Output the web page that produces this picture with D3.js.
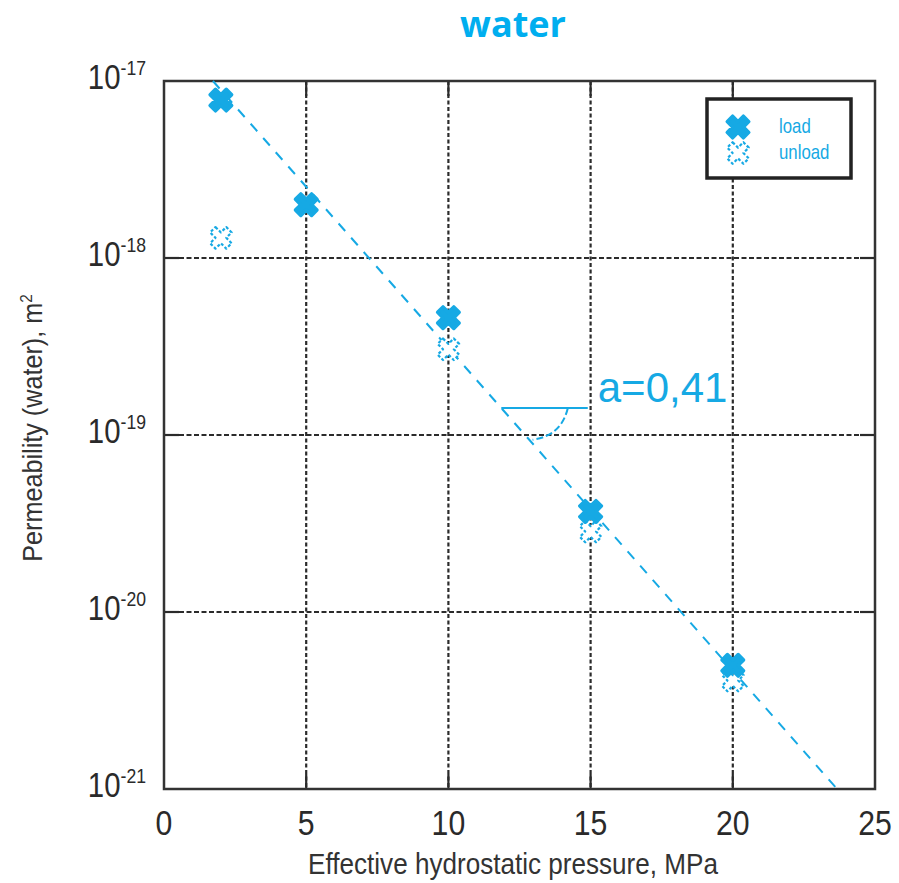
<!DOCTYPE html>
<html>
<head>
<meta charset="utf-8">
<script src="https://cdn.jsdelivr.net/npm/d3@7"></script>
<style>
  body { margin: 0; background: #fff; }
  svg { display: block; }
  .narrow { font-family: 'Liberation Sans Narrow', 'Arial Narrow', 'Liberation Sans', sans-serif; }
</style>
</head>
<body>
<svg id="chart" width="899" height="883"></svg>
<script>
const CYAN = '#16a9e4'
const GRID = '#2b2b2b'

// pressure (MPa) and permeability (m2)
const loadP = [2, 5, 10, 15, 20]
const loadK = [7.8e-18, 2.0e-18, 4.6e-19, 3.7e-20, 5.0e-21]
const unloadP = [2, 10, 15, 20]
const unloadK = [1.3e-18, 3.05e-19, 2.85e-20, 4.1e-21]

// fitted line ends, slope annotation
const fitP = [1.72, 23.67]
const fitK = [1e-17, 1e-21]
const slopeLabel = 'a=0,41'
const slopeP = [11.86, 14.9]
const slopeK = 1.42e-19
const arcP = [14.2, 13.97, 12.96]
const arcK = [1.42e-19, 9.9e-20, 9.4e-20]

const xTicks = [0, 5, 10, 15, 20, 25]
const yExps = [-17, -18, -19, -20, -21]

const svg = d3.select('#chart')
const pLeft = 164, pRight = 875, pTop = 81, pBottom = 789
const squeeze = 0.84   // no narrow font installed, so squash the regular one

const x = d3.scaleLinear().domain([0, 25]).range([pLeft, pRight])
const y = d3.scaleLog().domain([1e-21, 1e-17]).range([pBottom, pTop])

// title
svg.append('text')
    .attr('x', 513).attr('y', 37)
    .attr('text-anchor', 'middle')
    .style('font-family', "'Open Sans', sans-serif")
    .style('font-weight', 'bold')
    .style('font-size', '36px')
    .style('fill', '#00aeef')
    .text('water')

// grid
const inner = svg.append('g')
inner.selectAll('.vgrid')
    .data(xTicks.slice(1, -1)).enter()
    .append('line')
        .attr('x1', (d) => x(d)).attr('x2', (d) => x(d))
        .attr('y1', pTop).attr('y2', pBottom)
        .style('stroke', GRID).style('stroke-width', 2.2)
        .style('stroke-dasharray', '4,2.5')
inner.selectAll('.hgrid')
    .data(yExps.slice(1, -1)).enter()
    .append('line')
        .attr('x1', pLeft).attr('x2', pRight)
        .attr('y1', (d) => y(Math.pow(10, d))).attr('y2', (d) => y(Math.pow(10, d)))
        .style('stroke', GRID).style('stroke-width', 2.2)
        .style('stroke-dasharray', '5,2.5')

// inward tick stubs
const tickLen = 15
xTicks.slice(1, -1).forEach((d) => {
    inner.append('line').attr('x1', x(d)).attr('x2', x(d)).attr('y1', pBottom).attr('y2', pBottom - tickLen)
        .style('stroke', GRID).style('stroke-width', 2.2)
    inner.append('line').attr('x1', x(d)).attr('x2', x(d)).attr('y1', pTop).attr('y2', pTop + tickLen)
        .style('stroke', GRID).style('stroke-width', 2.2)
})
yExps.slice(1, -1).forEach((d) => {
    const yy = y(Math.pow(10, d))
    inner.append('line').attr('x1', pLeft).attr('x2', pLeft + tickLen).attr('y1', yy).attr('y2', yy)
        .style('stroke', GRID).style('stroke-width', 2.2)
    inner.append('line').attr('x1', pRight).attr('x2', pRight - tickLen).attr('y1', yy).attr('y2', yy)
        .style('stroke', GRID).style('stroke-width', 2.2)
})

// frame
svg.append('rect')
    .attr('x', pLeft).attr('y', pTop)
    .attr('width', pRight - pLeft).attr('height', pBottom - pTop)
    .style('fill', 'none').style('stroke', '#333').style('stroke-width', 2.5)

// x tick labels
svg.selectAll('.xlab')
    .data(xTicks).enter()
    .append('text')
        .attr('class', 'narrow')
        .attr('transform', (d) => `translate(${x(d)},835) scale(${squeeze},1)`)
        .attr('text-anchor', 'middle')
        .style('font-size', '36px').style('fill', '#2a2a2a')
        .text((d) => d)

// y tick labels
const ylab = svg.selectAll('.ylab')
    .data(yExps).enter()
    .append('text')
        .attr('class', 'narrow')
        .attr('transform', (d) => `translate(146,${y(Math.pow(10, d)) + 8}) scale(${squeeze},1)`)
        .attr('text-anchor', 'end')
        .style('font-size', '35px').style('fill', '#2a2a2a')
ylab.append('tspan').text('10')
ylab.append('tspan').attr('dy', -14).style('font-size', '21px').text((d) => d)

// axis titles
svg.append('text')
    .attr('class', 'narrow')
    .attr('transform', `translate(513,874) scale(0.9,1)`)
    .attr('text-anchor', 'middle')
    .style('font-size', '29px').style('fill', '#333')
    .text('Effective hydrostatic pressure, MPa')

const yt = svg.append('text')
    .attr('class', 'narrow')
    .attr('transform', `translate(42,428) rotate(-90) scale(0.9,1)`)
    .attr('text-anchor', 'middle')
    .style('font-size', '28px').style('fill', '#333')
yt.append('tspan').text('Permeability (water), m')
yt.append('tspan').attr('dy', -10).style('font-size', '17px').text('2')

// fit line
svg.append('line')
    .attr('x1', x(fitP[0])).attr('y1', y(fitK[0]))
    .attr('x2', x(fitP[1])).attr('y2', y(fitK[1]))
    .style('stroke', CYAN).style('stroke-width', 2)
    .style('stroke-dasharray', '10,9')

// slope annotation
svg.append('line')
    .attr('x1', x(slopeP[0])).attr('x2', x(slopeP[1]))
    .attr('y1', y(slopeK)).attr('y2', y(slopeK))
    .style('stroke', CYAN).style('stroke-width', 2)
const arc = d3.path()
arc.moveTo(x(arcP[0]), y(arcK[0]))
arc.quadraticCurveTo(x(arcP[1]), y(arcK[1]), x(arcP[2]), y(arcK[2]))
svg.append('path')
    .attr('d', arc.toString())
    .style('fill', 'none').style('stroke', CYAN).style('stroke-width', 2)
    .style('stroke-dasharray', '7,3')
svg.append('text')
    .attr('x', x(slopeP[1]) + 10).attr('y', y(slopeK) - 6)
    .style('font-family', "'Liberation Sans', sans-serif")
    .style('font-size', '42px').style('fill', CYAN)
    .text(slopeLabel)

// markers
const marker = d3.symbol().type(d3.symbolCross).size(290)
const unload = unloadP.map((p, i) => ({p: p, k: unloadK[i]}))
const load = loadP.map((p, i) => ({p: p, k: loadK[i]}))

svg.selectAll('.unload')
    .data(unload).enter()
    .append('path')
        .attr('d', marker)
        .attr('transform', (d) => `translate(${x(d.p)},${y(d.k)}) rotate(45)`)
        .style('fill', '#fff').style('stroke', CYAN).style('stroke-width', 2.2)
        .style('stroke-linejoin', 'round')
        .style('stroke-dasharray', '3,2')

svg.selectAll('.load')
    .data(load).enter()
    .append('path')
        .attr('d', marker)
        .attr('transform', (d) => `translate(${x(d.p)},${y(d.k)}) rotate(45)`)
        .style('fill', CYAN).style('stroke', CYAN).style('stroke-width', 3.5)
        .style('stroke-linejoin', 'round')

// legend
const lg = svg.append('g').attr('transform', 'translate(707,99)')
lg.append('rect')
    .attr('width', 144).attr('height', 79)
    .style('fill', '#fff').style('stroke', '#222').style('stroke-width', 3.5)
lg.append('path').attr('d', marker)
    .attr('transform', 'translate(31,28) rotate(45)')
    .style('fill', CYAN).style('stroke', CYAN).style('stroke-width', 3.5).style('stroke-linejoin', 'round')
lg.append('path').attr('d', marker)
    .attr('transform', 'translate(31,54) rotate(45)')
    .style('fill', '#fff').style('stroke', CYAN).style('stroke-width', 2.2)
    .style('stroke-linejoin', 'round').style('stroke-dasharray', '3,2')
lg.append('text').attr('class', 'narrow')
    .attr('transform', `translate(72,34) scale(${squeeze},1)`)
    .style('font-size', '20px').style('fill', CYAN).text('load')
lg.append('text').attr('class', 'narrow')
    .attr('transform', `translate(72,60) scale(${squeeze},1)`)
    .style('font-size', '20px').style('fill', CYAN).text('unload')
</script>
</body>
</html>
